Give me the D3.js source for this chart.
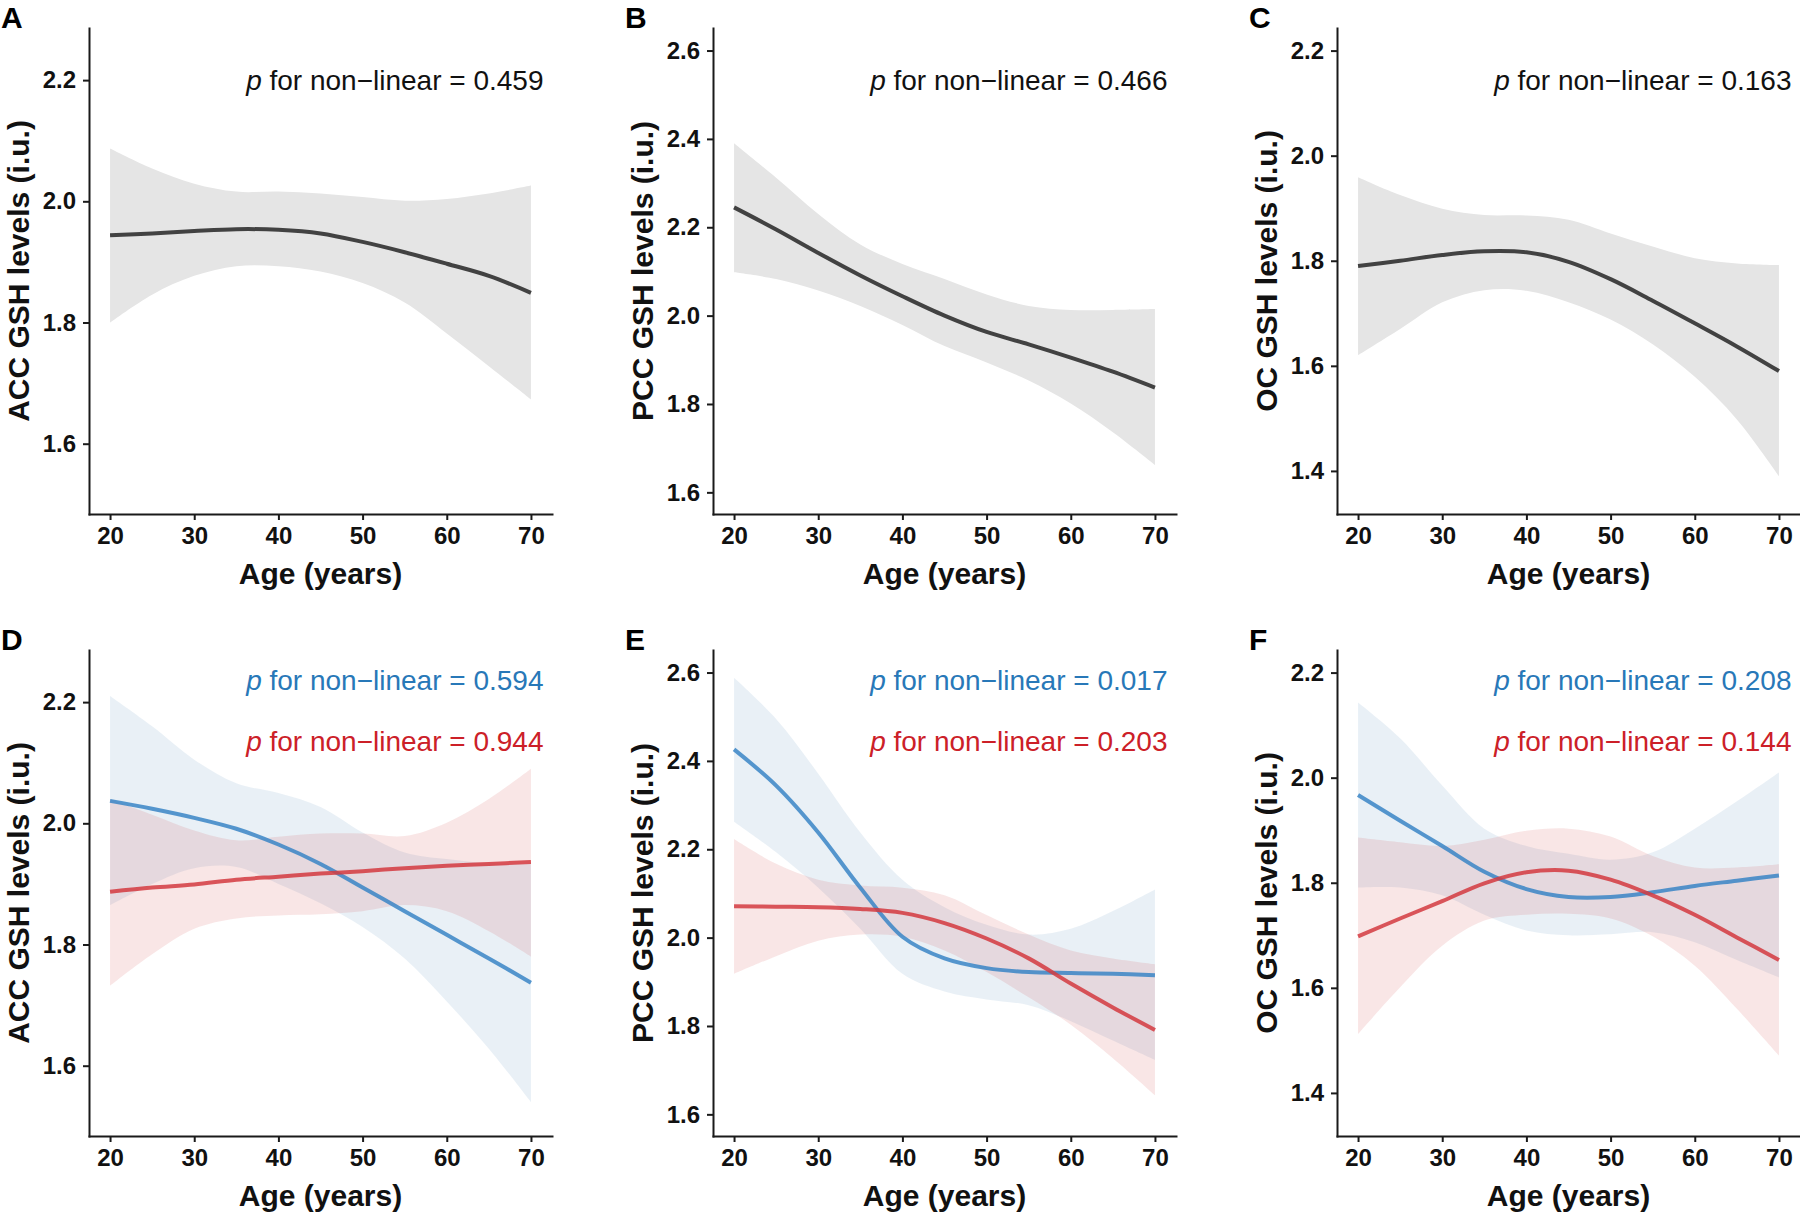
<!DOCTYPE html>
<html>
<head>
<meta charset="utf-8">
<script src="https://cdn.jsdelivr.net/npm/d3@7"></script>
<style>
  body { margin: 0; background: #fff; }
  svg { display: block; font-family: "Liberation Sans", Arial, sans-serif; }
</style>
</head>
<body>
<svg id="chart" width="1800" height="1216"></svg>
<script>
const ages = [20, 25, 30, 35, 40, 45, 50, 55, 60, 65, 70]
const ageTicks = [20, 30, 40, 50, 60, 70]

const accTicks = [1.6, 1.8, 2.0, 2.2]
const pccTicks = [1.6, 1.8, 2.0, 2.2, 2.4, 2.6]
const ocTicks = [1.4, 1.6, 1.8, 2.0, 2.2]

// whole sample (top row)
const accFit = [1.944, 1.947, 1.951, 1.954, 1.953, 1.947, 1.933, 1.916, 1.897, 1.877, 1.849]
const accHi = [2.087, 2.054, 2.029, 2.016, 2.016, 2.013, 2.007, 2.001, 2.004, 2.013, 2.026]
const accLo = [1.800, 1.846, 1.877, 1.893, 1.893, 1.884, 1.865, 1.833, 1.782, 1.728, 1.673]

const pccFit = [2.245, 2.195, 2.142, 2.091, 2.044, 2.000, 1.963, 1.935, 1.905, 1.873, 1.837]
const pccHi = [2.390, 2.312, 2.230, 2.161, 2.117, 2.083, 2.048, 2.022, 2.013, 2.013, 2.015]
const pccLo = [2.098, 2.083, 2.057, 2.022, 1.979, 1.931, 1.894, 1.853, 1.801, 1.736, 1.662]

const ocFit = [1.790, 1.800, 1.811, 1.818, 1.816, 1.798, 1.765, 1.724, 1.681, 1.637, 1.590]
const ocHi = [1.959, 1.925, 1.899, 1.887, 1.886, 1.878, 1.852, 1.827, 1.805, 1.795, 1.792]
const ocLo = [1.620, 1.670, 1.721, 1.744, 1.743, 1.721, 1.688, 1.641, 1.579, 1.498, 1.390]

// blue and red groups (bottom row)
const accBlueFit = [2.037, 2.024, 2.009, 1.991, 1.965, 1.933, 1.894, 1.855, 1.816, 1.777, 1.737]
const accBlueHi = [2.210, 2.160, 2.105, 2.066, 2.050, 2.027, 1.985, 1.952, 1.941, 1.934, 1.933]
const accBlueLo = [1.865, 1.900, 1.926, 1.928, 1.900, 1.868, 1.829, 1.777, 1.706, 1.628, 1.540]
const accRedFit = [1.887, 1.894, 1.899, 1.907, 1.912, 1.917, 1.921, 1.926, 1.930, 1.933, 1.936]
const accRedHi = [2.040, 2.014, 1.988, 1.972, 1.978, 1.983, 1.983, 1.979, 2.001, 2.040, 2.090]
const accRedLo = [1.732, 1.784, 1.826, 1.843, 1.848, 1.850, 1.855, 1.865, 1.855, 1.822, 1.780]

const pccBlueFit = [2.426, 2.344, 2.238, 2.113, 2.002, 1.953, 1.931, 1.922, 1.920, 1.918, 1.915]
const pccBlueHi = [2.588, 2.495, 2.371, 2.238, 2.131, 2.069, 2.029, 2.007, 2.020, 2.060, 2.109]
const pccBlueLo = [2.262, 2.193, 2.113, 2.020, 1.918, 1.878, 1.860, 1.847, 1.811, 1.767, 1.723]
const pccRedFit = [2.071, 2.070, 2.069, 2.065, 2.056, 2.033, 1.998, 1.953, 1.896, 1.842, 1.791]
const pccRedHi = [2.223, 2.167, 2.131, 2.118, 2.113, 2.096, 2.051, 2.007, 1.971, 1.953, 1.940]
const pccRedLo = [1.918, 1.958, 1.993, 2.007, 2.002, 1.971, 1.922, 1.865, 1.803, 1.727, 1.643]

const ocBlueFit = [1.967, 1.918, 1.870, 1.821, 1.788, 1.773, 1.773, 1.782, 1.794, 1.804, 1.814]
const ocBlueHi = [2.143, 2.075, 1.985, 1.903, 1.870, 1.855, 1.844, 1.858, 1.903, 1.955, 2.010]
const ocBlueLo = [1.791, 1.791, 1.776, 1.739, 1.709, 1.700, 1.702, 1.706, 1.687, 1.653, 1.620]
const ocRedFit = [1.698, 1.732, 1.765, 1.799, 1.820, 1.823, 1.806, 1.776, 1.739, 1.696, 1.653]
const ocRedHi = [1.886, 1.877, 1.870, 1.882, 1.899, 1.903, 1.888, 1.851, 1.829, 1.829, 1.835]
const ocRedLo = [1.512, 1.601, 1.680, 1.728, 1.739, 1.741, 1.732, 1.698, 1.642, 1.560, 1.471]

const pTop = ['0.459', '0.466', '0.163']
const pBlue = ['0.594', '0.017', '0.208']
const pRed = ['0.944', '0.203', '0.144']

const regions = [
    { name: 'ACC', ticks: accTicks, domain: [1.484, 2.286] },
    { name: 'PCC', ticks: pccTicks, domain: [1.551, 2.651] },
    { name: 'OC', ticks: ocTicks, domain: [1.318, 2.243] }
]

const colors = {
    all: { line: '#424242', fill: '#e5e5e5', fillOpacity: 1, lineOpacity: 1, text: '#111' },
    blue: { line: '#3a85c6', fill: '#4682b4', fillOpacity: 0.12, lineOpacity: 0.85, text: '#2878b8' },
    red: { line: '#d43a40', fill: '#cd3333', fillOpacity: 0.12, lineOpacity: 0.85, text: '#cc2028' }
}

const band = (fit, lo, hi) => ages.map((age, i) => ({ age, fit: fit[i], lo: lo[i], hi: hi[i] }))

const panels = [
    { letter: 'A', col: 0, row: 0, series: [{ key: 'all', data: band(accFit, accLo, accHi), p: pTop[0] }] },
    { letter: 'B', col: 1, row: 0, series: [{ key: 'all', data: band(pccFit, pccLo, pccHi), p: pTop[1] }] },
    { letter: 'C', col: 2, row: 0, series: [{ key: 'all', data: band(ocFit, ocLo, ocHi), p: pTop[2] }] },
    { letter: 'D', col: 0, row: 1, series: [
        { key: 'blue', data: band(accBlueFit, accBlueLo, accBlueHi), p: pBlue[0] },
        { key: 'red', data: band(accRedFit, accRedLo, accRedHi), p: pRed[0] }] },
    { letter: 'E', col: 1, row: 1, series: [
        { key: 'blue', data: band(pccBlueFit, pccBlueLo, pccBlueHi), p: pBlue[1] },
        { key: 'red', data: band(pccRedFit, pccRedLo, pccRedHi), p: pRed[1] }] },
    { letter: 'F', col: 2, row: 1, series: [
        { key: 'blue', data: band(ocBlueFit, ocBlueLo, ocBlueHi), p: pBlue[2] },
        { key: 'red', data: band(ocRedFit, ocRedLo, ocRedHi), p: pRed[2] }] }
]

const colX = [89, 713, 1337]
const rowY = [28, 650]
const plotW = 463
const plotH = 486

const svg = d3.select('#chart')
const smooth = d3.curveCatmullRom.alpha(0.5)

panels.forEach(panel => {
    const region = regions[panel.col]
    const g = svg.append('g')
        .attr('transform', `translate(${colX[panel.col]},${rowY[panel.row]})`)

    const x = d3.scaleLinear().domain([17.5, 72.5]).range([0, plotW])
    const y = d3.scaleLinear().domain(region.domain).range([plotH, 0])

    const area = d3.area()
        .x(d => x(d.age))
        .y0(d => y(d.lo))
        .y1(d => y(d.hi))
        .curve(smooth)

    const line = d3.line()
        .x(d => x(d.age))
        .y(d => y(d.fit))
        .curve(smooth)

    panel.series.forEach(s => {
        g.append('path')
            .attr('d', area(s.data))
            .attr('fill', colors[s.key].fill)
            .attr('fill-opacity', colors[s.key].fillOpacity)
    })

    panel.series.forEach(s => {
        g.append('path')
            .attr('d', line(s.data))
            .attr('fill', 'none')
            .attr('stroke', colors[s.key].line)
            .attr('stroke-opacity', colors[s.key].lineOpacity)
            .attr('stroke-width', 4)
    })

    const yAxis = g.append('g')
        .call(d3.axisLeft(y).tickValues(region.ticks).tickFormat(d3.format('.1f'))
            .tickSize(6).tickSizeOuter(0).tickPadding(7))

    const xAxis = g.append('g')
        .attr('transform', `translate(0,${plotH})`)
        .call(d3.axisBottom(x).tickValues(ageTicks)
            .tickSize(6).tickSizeOuter(0).tickPadding(7))

    ;[yAxis, xAxis].forEach(ax => {
        ax.select('.domain').attr('stroke', '#1a1a1a').attr('stroke-width', 2).attr('stroke-linecap', 'square')
        ax.selectAll('.tick line').attr('stroke', '#1a1a1a').attr('stroke-width', 2)
        ax.selectAll('.tick text')
            .attr('fill', '#111')
            .style('font-size', '24px')
            .style('font-weight', 'bold')
            .style('font-family', '"Liberation Sans", Arial, sans-serif')
    })

    g.append('text')
        .attr('transform', `translate(-60,${plotH / 2}) rotate(-90)`)
        .attr('text-anchor', 'middle')
        .style('font-size', '30px')
        .style('font-weight', 'bold')
        .attr('fill', '#111')
        .text(`${region.name} GSH levels (i.u.)`)

    g.append('text')
        .attr('x', plotW / 2)
        .attr('y', plotH + 70)
        .attr('text-anchor', 'middle')
        .style('font-size', '30px')
        .style('font-weight', 'bold')
        .attr('fill', '#111')
        .text('Age (years)')

    g.append('text')
        .attr('x', -88)
        .attr('y', 0)
        .style('font-size', '30px')
        .style('font-weight', 'bold')
        .attr('fill', '#000')
        .text(panel.letter)

    const labelY = panel.series.length === 1 ? [62] : [40, 101]
    panel.series.forEach((s, i) => {
        const t = g.append('text')
            .attr('x', plotW - 8.5)
            .attr('y', labelY[i])
            .attr('text-anchor', 'end')
            .style('font-size', '28px')
            .attr('fill', colors[s.key].text)
        t.append('tspan').style('font-style', 'italic').text('p')
        t.append('tspan').text(` for non\u2212linear = ${s.p}`)
    })
})
</script>
</body>
</html>
